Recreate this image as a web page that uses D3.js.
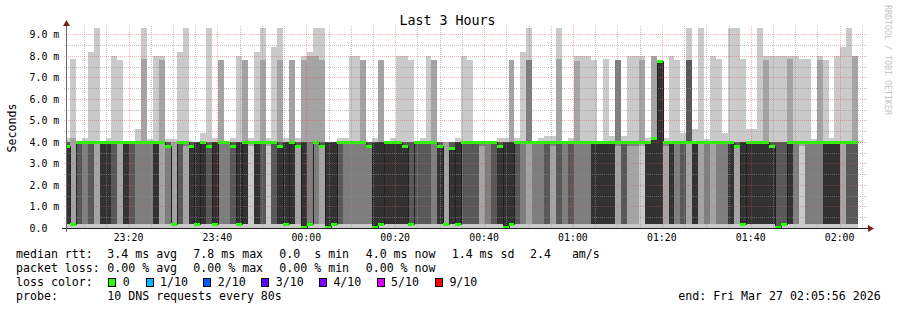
<!DOCTYPE html>
<html>
<head>
<meta charset="utf-8">
<script src="https://cdn.jsdelivr.net/npm/d3@7"></script>
<style>
  body { margin: 0; background: #fff; }
  svg text { font-family: "DejaVu Sans Mono", monospace; white-space: pre; }
</style>
</head>
<body>
<svg id="chart" width="897" height="310"></svg>
<script>
'use strict';

// time window of the graph and the probe step
const rangeStart = new Date(2026, 2, 26, 23, 5, 56);
const rangeEnd = new Date(2026, 2, 27, 2, 5, 56);
const firstStepEnd = new Date(2026, 2, 26, 23, 6, 50);
const stepSeconds = 80;
const yMax = 9.3;

// sorted ping times (ms) of the 10 DNS requests, one row per step
const pings = [
  [0,0.2,0.2,0.2,0.2,3.8,4,4,4,4.2],
  [0,0.2,0.2,0.2,0.2,0.2,0.2,0.2,4.2,7.85],
  [0,0.2,0.2,0.2,4,4,4,4,4,4],
  [0,0.2,0.2,4,4,4,4,4,4,4.2],
  [0,0.2,0.2,0.2,4,4,4,4,4,8.2],
  [0,0.2,4,4,4,4,4,4,4,9.3],
  [0,0.2,0.2,0.2,0.2,4,4,4,4,4],
  [0,0.2,0.2,0.2,0.2,4,4,4,4,4.2],
  [0,0.2,0.2,0.2,4,4,4,4,4,8],
  [0,0.2,4,4,4,4,4,4,4,7.8],
  [0,0.2,0.2,0.2,0.2,4,4,4,4,4],
  [0,0.2,0.2,0.2,4,4,4,4,4,4],
  [0,0.2,0.2,4,4,4,4,4,4,4.6],
  [0,0.2,0.2,4,4,4,4,4,7.85,9.3],
  [0,0.2,0.2,4,4,4,4,4,4,4.15],
  [0,0.2,0.2,0.2,0.2,4,4,4,4,8],
  [0,0.2,4,4,4,4,4,4,7.8,8],
  [0,0.2,0.2,3.8,3.8,3.8,4,4,4,4.15],
  [0,0.2,0.2,0.2,0.2,0.2,0.2,0.2,4,4.15],
  [0,0.2,0.2,0.2,4,4,4,4,4,8.2],
  [0,0.2,3.8,4,4,4,4,4,4,9.3],
  [0,0.2,0.2,0.2,0.2,3.8,4,4,4,4],
  [0,0.2,0.2,0.2,0.2,4,4,4,4,4],
  [0,0.2,0.2,0.2,0.2,4,4,4,4,4.4],
  [0,0.2,0.2,0.2,3.8,3.8,4,4,4,9.3],
  [0,0.2,0.2,0.2,0.2,4,4,4,4,4.2],
  [0,0.2,0.2,4,4,4,4,4,7.8,7.8],
  [0,0.2,0.2,4,4,4,4,4,4,4],
  [0,0.2,0.2,0.2,3.8,3.8,4,4,4,4.2],
  [0,0.2,0.2,0.2,0.2,4,4,4,4,8],
  [0,0.2,0.2,0.2,0.2,4,4,4,7.8,7.8],
  [0,3.8,4,4,4,4,4,4,4,4.2],
  [0,0.2,0.2,0.2,0.2,4,4,4,4,8.2],
  [0,0.2,0.2,0.2,4,4,4,4,7.8,9.3],
  [0,3.8,4,4,4,4,4,4,4,4.2],
  [0,0.2,0.2,0.2,4,4,4,4,4,8.4],
  [0,0.2,0.2,0.2,0.2,3.8,4,4,7.8,9.3],
  [0,0.2,0.2,0.2,0.2,4,4,4,4,4.2],
  [0,0.2,0.2,0.2,0.2,4,4,4,7.8,7.8],
  [0,0.2,3.8,3.8,3.8,3.8,4,4,4,4.2],
  [0,0,0,0,0.05,4,4,4,7.8,8],
  [0,0.2,0.2,0.2,0.2,0.2,0.2,4,8,8.2],
  [0,0.2,0.2,4,4,4,4,4,8,9.3],
  [0,0.2,3.8,3.8,3.8,3.8,4,4,7.8,9.3],
  [0,0,0,0,0.05,4,4,4,4,4],
  [0,0.2,0.2,0.2,0.2,4,4,4,4,4],
  [0,0.2,0.2,0.2,4,4,4,4,4,4.2],
  [0,0.2,0.2,4,4,4,4,4,4,4.2],
  [0,0.2,0.2,4,4,4,4,4,4,8],
  [0,0.2,0.2,4,4,4,4,4,4,8],
  [0,0.2,0.2,4,4,4,4,4,7.8,7.8],
  [0,0.2,0.2,3.8,3.8,3.8,4,4,4,4],
  [0,0,0,0,0.05,4,4,4,4,4.2],
  [0,0.2,0.2,0.2,0.2,4,4,4,7.8,7.8],
  [0,0.2,0.2,0.2,0.2,4,4,4,4,4],
  [0,0.2,0.2,0.2,0.2,4,4,4,4,4.2],
  [0,0.2,0.2,0.2,0.2,4,4,4,4,8],
  [0,0.2,0.2,0.2,0.2,3.8,4,4,4,8],
  [0,0.2,0.2,0.2,0.2,0.2,4,4,4,7.8],
  [0,0.2,0.2,0.2,4,4,4,4,4,4],
  [0,0.2,0.2,0.2,4,4,4,4,4,4.2],
  [0,0.2,0.2,0.2,4,4,4,4,4,8],
  [0,0.2,0.2,4,4,4,4,4,7.8,7.8],
  [0,0.2,0.2,0.2,0.2,3.8,4,4,4,4],
  [0,0.2,0.2,0.2,0.2,0.2,0.2,0.2,4,4],
  [0,0.2,0.2,0.2,0.2,3.7,4,4,4,4],
  [0,0.2,0.2,0.2,0.2,4,4,4,4,4.2],
  [0,0.2,0.2,0.2,4,4,4,4,4,8],
  [0,0.2,0.2,0.2,4,4,4,4,4,7.8],
  [0,0.2,0.2,0.2,4,4,4,4,4,4],
  [0,0.2,3.8,4,4,4,4,4,4,4],
  [0,0.2,0.2,4,4,4,4,4,4,4],
  [0,0.2,0.2,0.2,4,4,4,4,4,4],
  [0,0.2,0.2,0.2,0.2,3.8,4,4,4,4.2],
  [0,0,0,0,0.05,4,4,4,4,4.2],
  [0,0.2,0.2,0.2,0.2,4,4,4,7.8,7.8],
  [0,0.2,0.2,0.2,4,4,4,4,4,4.2],
  [0,0.2,0.2,4,4,4,4,4,4,8.2],
  [0,0.2,4,4,4,4,4,7.8,7.8,9.3],
  [0,0.2,0.2,4,4,4,4,4,4,4],
  [0,0.2,0.2,4,4,4,4,4,4,4.2],
  [0,0.2,0.2,0.2,4,4,4,4,4,4.3],
  [0,0.2,3.8,4,4,4,4,4,4,4.3],
  [0,0.2,0.2,0.2,4,4,4,4,7.85,9.3],
  [0,0.2,0.2,4,4,4,4,4,4,4],
  [0,0.2,0.2,0.2,4,4,4,4,4,4.2],
  [0,0.2,0.2,4,4,4,4,4,7.75,8],
  [0,0.2,0.2,4,4,4,4,4,4,8],
  [0,0.2,0.2,4,4,4,4,4,4,8],
  [0,0.2,0.2,0.2,0.2,4,4,4,4,7.8],
  [0,0.2,0.2,0.2,0.2,4,4,4,4,4],
  [0,0.2,0.2,0.2,0.2,4,4,4,4,7.85],
  [0,0.2,0.2,0.2,0.2,4,4,4,4,4.3],
  [0,0.2,3.8,4,4,4,4,7.8,7.8,7.8],
  [0,0.2,0.2,0.2,4,4,4,4,4,4.3],
  [0,0.2,3.8,4,4,4,4,4,4,8],
  [0,0.2,3.8,4,4,4,4,4,4,8],
  [0,3.8,4,4,4,4,4,4,7.8,8],
  [0,0.2,0.2,0.2,0.2,4,4,4,4,4.2],
  [0,0.2,0.2,0.2,0.2,4.2,4.2,4.2,8,8],
  [0,0.2,0.2,0.2,0.2,7.75,7.75,7.75,7.75,7.75],
  [0,0.2,3.8,4,4,4,4,4,4,4.2],
  [0,0.2,0.2,0.2,0.2,4,4,4,4,8],
  [0,0.2,0.2,4,4,4,4,4,4,7.8],
  [0,0.2,0.2,0.2,4,4,4,4,4,4.4],
  [0,0.2,4,4,4,4,7.8,7.8,7.8,9.3],
  [0,0.2,0.2,0.2,0.2,4,4,4,4,4.6],
  [0,0.2,4,4,4,4,4,4,4,9.3],
  [0,0.2,0.2,4,4,4,4,4,4,4.15],
  [0,0.2,4,4,4,4,4,4,4,8],
  [0,0.2,0.2,4,4,4,4,4,4,7.85],
  [0,0.2,0.2,4,4,4,4,4,4,4.4],
  [0,0.2,0.2,0.2,0.2,4,4,4,4,9.3],
  [0,0.2,3.8,3.8,3.8,3.8,4,4,4,9.3],
  [0,0.2,0.2,0.2,0.2,4,4,4,4,7.85],
  [0,0.2,0.2,0.2,0.2,4,4,4,4,4.6],
  [0,0.2,0.2,0.2,0.2,4,4,4,4,4.6],
  [0,0.2,0.2,0.2,0.2,4,4,4,4,9.3],
  [0,0.2,0.2,0.2,0.2,4,4,4,7.8,8],
  [0,0.2,0.2,0.2,0.2,3.8,4,4,4,8],
  [0,0,0,0,0,0.05,4,4,4,8],
  [0,0.2,0.2,0.2,0.2,0.2,4,4,4,8],
  [0,0.2,0.2,0.2,0.2,4,4,4,7.85,8],
  [0,0.2,0.2,4,4,4,4,4,4,8],
  [0,3.8,4,4,4,4,4,4,4,7.85],
  [0,0.2,0.2,4,4,4,4,4,4,7.85],
  [0,0.2,0.2,4,4,4,4,4,4,4.15],
  [0,0.2,0.2,4,4,4,4,4,7.8,8],
  [0,0.2,0.2,0.2,0.2,4,4,4,4,7.8],
  [0,0.2,0.2,0.2,0.2,4,4,4,4,4.2],
  [0,0.2,0.2,0.2,0.2,4,4,4,4,8],
  [0,0.2,4,4,4,4,4,4,4,8.4],
  [0,0.2,0.2,0.2,4,4,4,4,4,9.3],
  [0,0.2,0.2,0.2,4,4,4,4,8,8]
];

// median rtt (ms) per step
const median = [
  3.8,0.2,4,4,4,4,4,4,4,4, 4,4,4,4,4,4,4,3.8,0.2,4,
  4,3.8,0.2,4,3.8,0.2,4,4,3.8,0.2, 4,4,4,4,4,4,3.8,0.2,4,3.8,
  0.05,0.2,4,3.8,0.05,0.2,4,4,4,4, 4,3.8,0.05,0.2,4,4,4,3.8,0.2,4,
  4,4,4,3.8,0.2,3.7,0.2,4,4,4, 4,4,4,3.8,0.05,0.2,4,4,4,4,
  4,4,4,4,4,4,4,4,4,4, 4,4,4,4,4,4,4,4,4,4.2,
  7.75,4,4,4,4,4,4,4,4,4, 4,4,4,3.8,0.2,4,4,4,4,3.8,
  0.05,0.2,4,4,4,4,4,4,4,4, 4,4,4,4
];

const yTicks = [0, 1, 2, 3, 4, 5, 6, 7, 8, 9];
const xTickLabels = ['23:20', '23:40', '00:00', '00:20', '00:40', '01:00', '01:20', '01:40', '02:00'];

const statsRtt = ['3.4 ms avg', '7.8 ms max', '0.0  s min', '4.0 ms now', '1.4 ms sd', '2.4   am/s'];
const statsLoss = ['0.00 % avg', '0.00 % max', '0.00 % min', '0.00 % now'];
const lossLabels = ['0', '1/10', '2/10', '3/10', '4/10', '5/10', '9/10'];
const lossColors = ['#26ff00', '#00b8ff', '#0059ff', '#5e00ff', '#7e00ff', '#dd00ff', '#ff0000'];

const plot = { left: 66, top: 28, width: 800, height: 200 };
const smokeGrays = ['#cacaca', '#a4a4a4', '#7e7e7e', '#585858', '#323232'];

const svg = d3.select('#chart');

const x = d3.scaleTime()
    .domain([rangeStart, rangeEnd])
    .range([plot.left, plot.left + plot.width]);

const y = d3.scaleLinear()
    .domain([0, yMax])
    .range([plot.top + plot.height, plot.top]);

// one entry per step, with its start time
const steps = pings.map((row, i) => ({
    start: new Date(firstStepEnd.getTime() + (i - 1) * stepSeconds * 1000),
    row: row,
    median: median[i]
}));
const lastEnd = new Date(steps[steps.length - 1].start.getTime() + stepSeconds * 1000);
const points = steps.concat([{ start: lastEnd, row: steps[steps.length - 1].row, median: steps[steps.length - 1].median }]);

svg.append('clipPath').attr('id', 'plotClip')
  .append('rect')
    .attr('x', plot.left).attr('y', plot.top - 1)
    .attr('width', plot.width).attr('height', plot.height + 1);

const graph = svg.append('g').attr('clip-path', 'url(#plotClip)');

// smoke: band b spans the b-th smallest to the b-th largest ping
smokeGrays.forEach((col, b) => {
    const area = d3.area()
        .curve(d3.curveStepAfter)
        .x(d => Math.round(x(d.start)))
        .y0(d => Math.round(y(d.row[b])))
        .y1(d => Math.round(y(d.row[9 - b])));
    graph.append('path')
        .datum(points)
        .attr('d', area)
        .attr('fill', col)
        .attr('shape-rendering', 'crispEdges');
});

// thin median line
const medLine = d3.line()
    .curve(d3.curveStepAfter)
    .x(d => Math.round(x(d.start)) + 0.5)
    .y(d => Math.round(y(d.median)) + 0.5);
graph.append('path')
    .datum(points)
    .attr('d', medLine)
    .attr('fill', 'none')
    .attr('stroke', '#202020')
    .attr('stroke-width', 1);

// median coloured by packet loss (all 0 here)
graph.selectAll('rect.med')
    .data(steps)
    .enter().append('rect')
    .attr('class', 'med')
    .attr('x', d => Math.round(x(d.start)))
    .attr('width', d => Math.round(x(new Date(d.start.getTime() + stepSeconds * 1000))) - Math.round(x(d.start)))
    .attr('y', d => Math.round(y(d.median)) - 1)
    .attr('height', 3)
    .attr('fill', lossColors[0])
    .attr('shape-rendering', 'crispEdges');

// grid is drawn over the data
const gridMinor = 'rgba(143,143,143,0.55)';
const gridMajor = 'rgba(222,79,79,0.42)';
const gridG = svg.append('g').attr('shape-rendering', 'crispEdges');

const halfTicks = d3.range(0.5, yMax, 0.5).filter(v => v % 1 !== 0);
gridG.selectAll('line.hmin').data(halfTicks).enter().append('line')
    .attr('x1', plot.left - 2).attr('x2', plot.left + plot.width + 2)
    .attr('y1', d => Math.round(y(d)) + 0.5).attr('y2', d => Math.round(y(d)) + 0.5)
    .attr('stroke', gridMinor).attr('stroke-dasharray', '1,1');

gridG.selectAll('line.hmaj').data(yTicks.filter(v => v > 0)).enter().append('line')
    .attr('x1', plot.left - 2).attr('x2', plot.left + plot.width + 2)
    .attr('y1', d => Math.round(y(d)) + 0.5).attr('y2', d => Math.round(y(d)) + 0.5)
    .attr('stroke', gridMajor).attr('stroke-dasharray', '1,1');

const fiveMin = d3.timeMinute.every(5).range(rangeStart, rangeEnd);
const majorTimes = fiveMin.filter(t => t.getMinutes() % 20 === 0);
const minorTimes = fiveMin.filter(t => t.getMinutes() % 20 !== 0);

gridG.selectAll('line.vmin').data(minorTimes).enter().append('line')
    .attr('x1', d => Math.round(x(d)) + 0.5).attr('x2', d => Math.round(x(d)) + 0.5)
    .attr('y1', plot.top - 2).attr('y2', plot.top + plot.height + 2)
    .attr('stroke', gridMinor).attr('stroke-dasharray', '1,1');

gridG.selectAll('line.vmaj').data(majorTimes).enter().append('line')
    .attr('x1', d => Math.round(x(d)) + 0.5).attr('x2', d => Math.round(x(d)) + 0.5)
    .attr('y1', plot.top - 2).attr('y2', plot.top + plot.height + 2)
    .attr('stroke', gridMajor).attr('stroke-dasharray', '1,1');

// axes and arrows
const x0 = plot.left, y0 = plot.top + plot.height;
svg.append('line')
    .attr('x1', x0 - 4).attr('x2', x0 + plot.width + 4)
    .attr('y1', y0 + 0.5).attr('y2', y0 + 0.5)
    .attr('stroke', '#1f1f1f').attr('stroke-width', 1);
svg.append('line')
    .attr('x1', x0 + 0.5).attr('x2', x0 + 0.5)
    .attr('y1', y0 + 4).attr('y2', plot.top - 4)
    .attr('stroke', '#6a6a6a').attr('stroke-width', 1);
svg.append('path')
    .attr('d', `M${x0 + plot.width + 2},${y0 - 3}L${x0 + plot.width + 2},${y0 + 4}L${x0 + plot.width + 8},${y0 + 0.5}Z`)
    .attr('fill', '#801f1f');
svg.append('path')
    .attr('d', `M${x0 - 3},${plot.top - 2}L${x0 + 4},${plot.top - 2}L${x0 + 0.5},${plot.top - 8}Z`)
    .attr('fill', '#801f1f');

// tick labels
svg.selectAll('text.ylab').data(yTicks).enter().append('text')
    .attr('x', 29.5)
    .attr('y', d => y(d) + 3.6)
    .attr('font-size', '9.9px')
    .text(d => d === 0 ? '0.0' : d.toFixed(1) + ' m');

svg.selectAll('text.xlab').data(majorTimes).enter().append('text')
    .attr('x', d => x(d))
    .attr('y', 240.5)
    .attr('font-size', '9.9px')
    .attr('text-anchor', 'middle')
    .text((d, i) => xTickLabels[i]);

// titles
svg.append('text')
    .attr('x', 447.5).attr('y', 24.5)
    .attr('font-size', '13.3px')
    .attr('text-anchor', 'middle')
    .text('Last 3 Hours');

svg.append('text')
    .attr('transform', 'translate(16,128) rotate(-90)')
    .attr('font-size', '11.6px')
    .attr('text-anchor', 'middle')
    .text('Seconds');

svg.append('text')
    .attr('transform', 'translate(885,5) rotate(90)')
    .attr('font-size', '8.3px')
    .attr('fill', '#c4c4c4')
    .text('RRDTOOL / TOBI OETIKER');

// legend
const legend = svg.append('g').attr('font-size', '11.6px');
const rowY = [258, 272, 286, 300];

legend.append('text').attr('x', 16).attr('y', rowY[0]).text('median rtt:');
const rttX = [107.3, 193.3, 279.3, 365.7, 451.7, 530];
statsRtt.forEach((s, i) => legend.append('text').attr('x', rttX[i]).attr('y', rowY[0]).text(s));

legend.append('text').attr('x', 16).attr('y', rowY[1]).text('packet loss:');
statsLoss.forEach((s, i) => legend.append('text').attr('x', rttX[i]).attr('y', rowY[1]).text(s));

legend.append('text').attr('x', 16).attr('y', rowY[2]).text('loss color:');
const boxX = [108.3, 145.7, 203.3, 261.3, 319, 376.7, 435];
lossLabels.forEach((lab, i) => {
    legend.append('rect')
        .attr('x', Math.round(boxX[i]) + 0.5).attr('y', 278.5)
        .attr('width', 7).attr('height', 8)
        .attr('fill', lossColors[i])
        .attr('stroke', '#000').attr('stroke-width', 1);
    legend.append('text').attr('x', boxX[i] + 14.4).attr('y', rowY[2]).text(lab);
});

legend.append('text').attr('x', 16).attr('y', rowY[3]).text('probe:');
legend.append('text').attr('x', 107.3).attr('y', rowY[3]).text('10 DNS requests every 80s');
legend.append('text').attr('x', 678.3).attr('y', rowY[3]).text('end: Fri Mar 27 02:05:56 2026');
</script>
</body>
</html>
